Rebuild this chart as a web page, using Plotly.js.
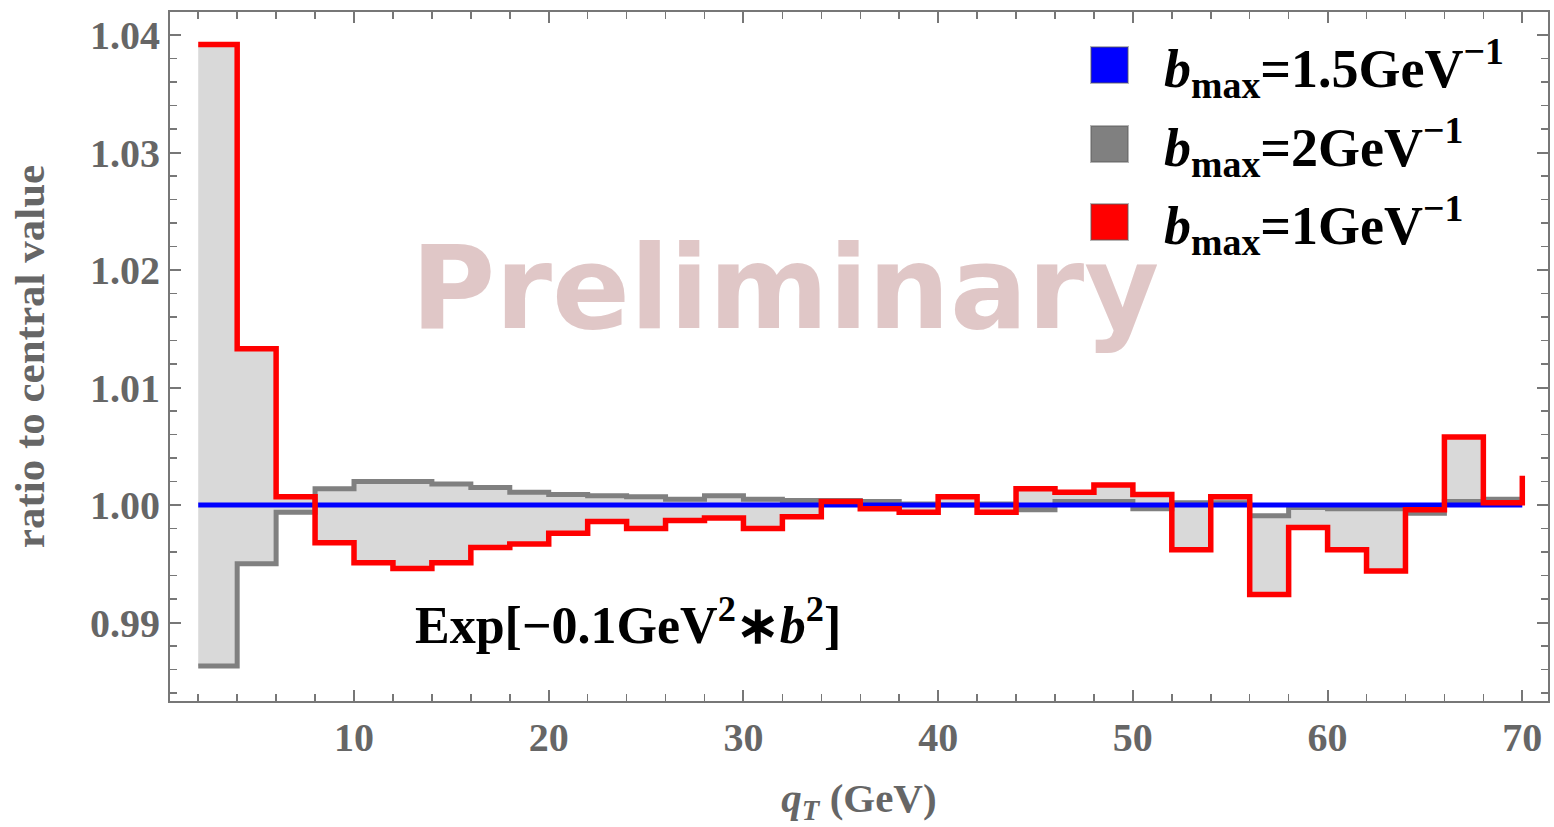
<!DOCTYPE html>
<html>
<head>
<meta charset="utf-8">
<script src="https://cdn.plot.ly/plotly-3.0.1.min.js"></script>
<style>html,body{margin:0;padding:0;background:#fff;}#chart{width:1554px;height:827px;}</style>
</head>
<body>
<div id="chart"></div>
<script>
// bin left edges (GeV), last entry is the right edge of the final bin
const qT = [2,4,6,8,10,12,14,16,18,20,22,24,26,28,30,32,34,36,38,40,42,44,46,48,50,52,54,56,58,60,62,64,66,68,70];
// ratio to central value, one value per 2 GeV bin
const red_bmax1 = [1.0392,1.0133,1.0007,0.9968,0.9951,0.9946,0.9951,0.9964,0.9967,0.9976,0.9986,0.9980,0.9987,0.9989,0.9980,0.9990,1.0003,0.9997,0.9994,1.0007,0.9994,1.0014,1.0011,1.0017,1.0009,0.9962,1.0007,0.9924,0.9981,0.9962,0.9944,0.9996,1.0058,1.0002];
const gray_bmax2 = [0.9863,0.9950,0.9994,1.0014,1.0020,1.0020,1.0018,1.0015,1.0011,1.0009,1.0008,1.0007,1.0005,1.0008,1.0005,1.0004,1.0004,1.0003,1.0001,1.0000,1.0001,0.9996,1.0003,1.0003,0.9997,1.0002,1.0002,0.9991,0.9998,0.9997,0.9997,0.9993,1.0003,1.0005];
const blue_bmax15 = [1,1];
const blue_x = [2,70];
const red_tail = 1.0025;   // value the red curve jumps to at qT = 70

const seriesNames = ['<i>b</i><sub>max</sub>=1.5GeV<sup>\u22121</sup>','<i>b</i><sub>max</sub>=2GeV<sup>\u22121</sup>','<i>b</i><sub>max</sub>=1GeV<sup>\u22121</sup>'];
const seriesColors = ['#0000ff','#808080','#ff0000'];

function closeStep(v){ return v.concat([v[v.length-1]]); }

const redY = closeStep(red_bmax1);
const grayY = closeStep(gray_bmax2);

const traces = [
  {x: qT, y: redY, type:'scatter', mode:'lines', line:{shape:'hv', width:0, color:'rgba(0,0,0,0)'}, hoverinfo:'skip', showlegend:false},
  {x: qT, y: grayY, type:'scatter', mode:'lines', fill:'tonexty', fillcolor:'rgb(217,217,217)', line:{shape:'hv', width:0, color:'rgba(0,0,0,0)'}, hoverinfo:'skip', showlegend:false},
  {x: qT, y: grayY, type:'scatter', mode:'lines', line:{shape:'hv', width:5, color:seriesColors[1]}, showlegend:false},
  {x: blue_x, y: blue_bmax15, type:'scatter', mode:'lines', line:{width:5, color:seriesColors[0]}, showlegend:false},
  {x: qT.concat([qT[qT.length-1]]), y: redY.concat([red_tail]), type:'scatter', mode:'lines', line:{shape:'hv', width:5.5, color:seriesColors[2]}, showlegend:false}
];

const L = 170, R = 6, T = 12, B = 126, W = 1554, H = 827;
const pw = W - L - R, ph = H - T - B;
function px(xp){ return (xp - L) / pw; }
function py(yp){ return (H - B - yp) / ph; }

const serif = 'Liberation Serif, Times New Roman, serif';
const axisGray = '#777777';
const labelGray = '#666666';

const annotations = [
  {xref:'paper', yref:'paper', x:px(785), y:py(288), text:'Preliminary', showarrow:false, xanchor:'center', yanchor:'middle',
   font:{family:'DejaVu Sans, sans-serif', size:115, color:'rgb(224,199,199)', weight:'bold'}},
  {xref:'paper', yref:'paper', x:px(413), y:py(621), text:'Exp[\u22120.1GeV<sup>2</sup>\u2217<i>b</i><sup>2</sup>]', showarrow:false, xanchor:'left', yanchor:'middle',
   font:{family:serif, size:52, color:'#000', weight:'bold'}}
];
const shapes = [];
const rowY = [65, 144, 222];
for (let i = 0; i < 3; i++) {
  shapes.push({type:'rect', xref:'paper', yref:'paper', x0:px(1091), x1:px(1128), y0:py(rowY[i]+18), y1:py(rowY[i]-18),
    fillcolor:seriesColors[i], line:{color:'rgba(90,90,90,0.45)', width:2}, layer:'above'});
  annotations.push({xref:'paper', yref:'paper', x:px(1162), y:py(rowY[i]+3), text:seriesNames[i], showarrow:false, xanchor:'left', yanchor:'middle',
    font:{family:serif, size:54, color:'#000', weight:'bold'}});
}

const layout = {
  width: W, height: H,
  margin:{l:L, r:R, t:T, b:B},
  paper_bgcolor:'#fff', plot_bgcolor:'#fff',
  showlegend:false,
  xaxis:{
    range:[0.55, 71.32], ticks:'inside', ticklen:11, tickwidth:2, tickcolor:axisGray,
    showline:true, linecolor:axisGray, linewidth:2, mirror:'allticks', showgrid:false, zeroline:false,
    minor:{dtick:2, tick0:0, ticks:'inside', ticklen:7, tickwidth:1.5, tickcolor:axisGray, showgrid:false},
    tickmode:'array', tickvals:[10,20,30,40,50,60,70],
    tickfont:{family:serif, size:40, color:labelGray, weight:'bold'},
    title:{text:'<i>q<sub>T</sub></i> (GeV)', font:{family:serif, size:41, color:labelGray, weight:'bold'}, standoff:24},
    automargin:false
  },
  yaxis:{
    range:[0.98333, 1.04196], tickmode:'linear', tick0:0.99, dtick:0.01, ticks:'inside', ticklen:11, tickwidth:2, tickcolor:axisGray,
    showline:true, linecolor:axisGray, linewidth:2, mirror:'allticks', showgrid:false, zeroline:false,
    minor:{dtick:0.002, ticks:'inside', ticklen:7, tickwidth:1.5, tickcolor:axisGray, showgrid:false},
    tickformat:'.2f',
    tickfont:{family:serif, size:40, color:labelGray, weight:'bold'},
    title:{text:'ratio to central value', font:{family:serif, size:43, color:labelGray, weight:'bold'}, standoff:32},
    automargin:false
  },
  annotations: annotations,
  shapes: shapes
};

Plotly.newPlot('chart', traces, layout, {displayModeBar:false, staticPlot:true});
</script>
</body>
</html>
